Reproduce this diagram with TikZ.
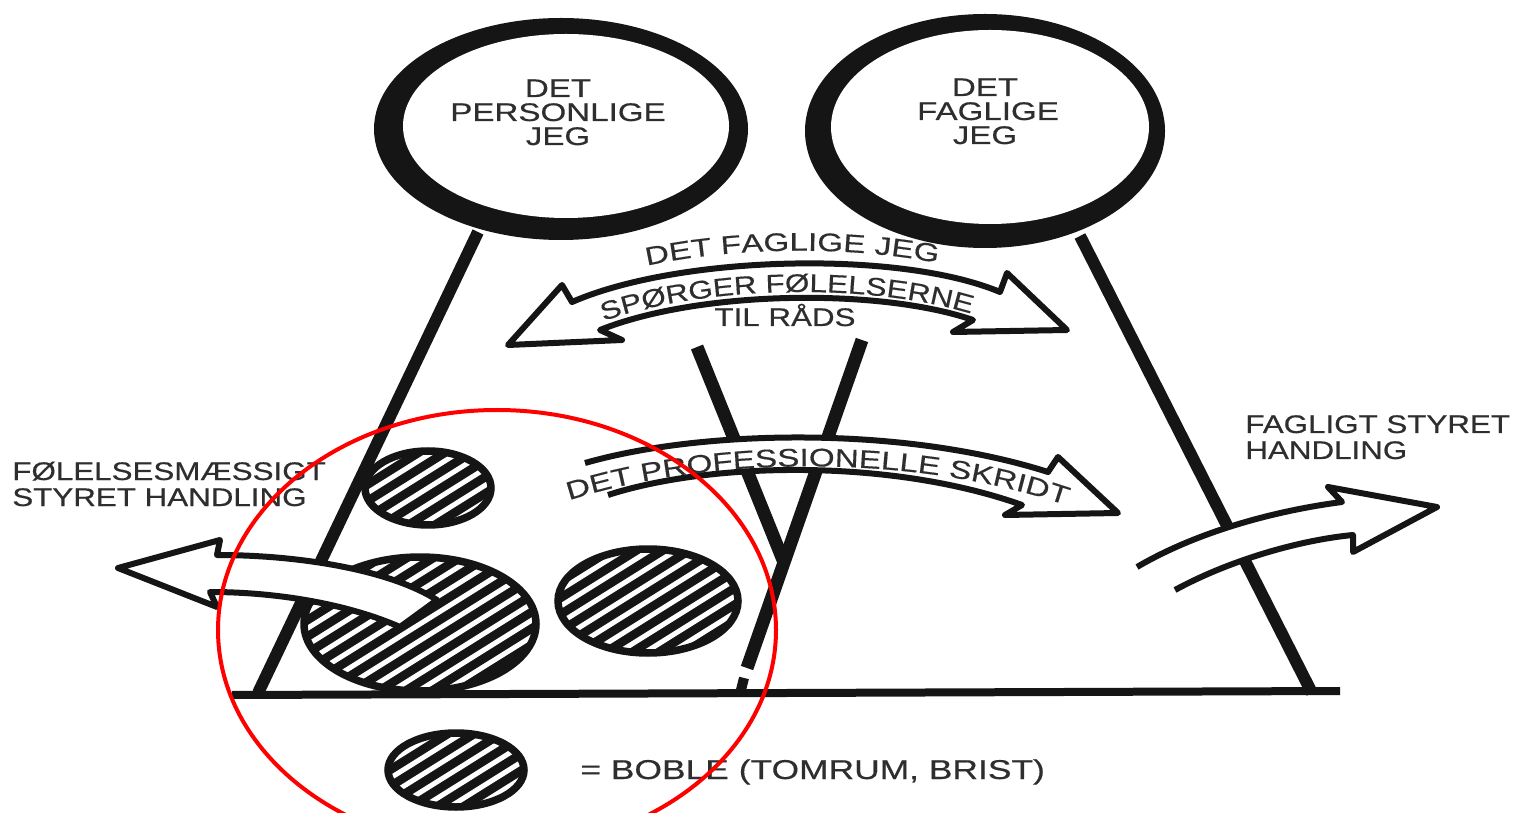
\documentclass[tikz,border=0pt]{standalone}
\usepackage{fontspec}
\setmainfont{Liberation Sans}
\newfontfamily\fa[FakeStretch=1.3,FakeBold=0.4]{Liberation Sans}
\newfontfamily\fb[FakeStretch=1.23,FakeBold=0.4]{Liberation Sans}
\usetikzlibrary{decorations.text}
\definecolor{ink}{HTML}{151515}
\definecolor{txt}{HTML}{2E2E2E}
\tikzset{
  stem/.style={ink, line width=0.24cm},
  arrowband/.style={ink, fill=white, line width=0.12cm, line join=round},
  ctext/.style={text=txt, font=\fa\fontsize{14.5}{16}\selectfont, inner sep=0pt, anchor=base},
  ltext/.style={text=txt, font=\fb\fontsize{14.5}{16}\selectfont, inner sep=0pt, anchor=base west},
}
\newcommand\hatchbubble[5]{%
  \coordinate (#1) at (#2,#3);
  \begin{scope}
    \clip (#2,#3) ellipse [x radius=#4, y radius=#5];
    \fill[ink] (#2,#3) ellipse [x radius=#4, y radius=#5];
    \foreach \k in {-8,...,8}{
      \pgfmathsetmacro\xa{#2+\k*7.42-144}
      \pgfmathsetmacro\ya{#3+\k*11.87+90}
      \pgfmathsetmacro\xb{#2+\k*7.42+144}
      \pgfmathsetmacro\yb{#3+\k*11.87-90}
      \draw[white, line width=0.1cm] (\xa,\ya) -- (\xb,\yb);
    }
  \end{scope}
  \draw[ink, line width=0.15cm] (#2,#3) ellipse [x radius=#4, y radius=#5];
}
\begin{document}
\begin{tikzpicture}[x=0.02cm, y=-0.02cm]
\useasboundingbox (0,0) rectangle (1520,813);
\fill[white] (0,0) rectangle (1520,813);

% the two "jeg" circles
\fill[ink] (561,129) ellipse [x radius=187, y radius=111];
\fill[white] (566,126) ellipse [x radius=163, y radius=92];
\fill[ink] (985,131) ellipse [x radius=180, y radius=117];
\fill[white] (990,127) ellipse [x radius=159, y radius=97];

\node[ctext] (p1) at (558,97) {DET};
\node[ctext] (p2) at (558,121) {PERSONLIGE};
\node[ctext] (p3) at (558,145) {JEG};
\node[ctext] (f1) at (985,96) {DET};
\node[ctext] (f2) at (988,120) {FAGLIGE};
\node[ctext] (f3) at (985,144) {JEG};

% stems and base
\coordinate (ls) at (478,232);
\coordinate (lb) at (258,693);
\coordinate (rs) at (1080,236);
\coordinate (rb) at (1312,693);
\draw[stem] (ls) -- (lb);
\draw[stem] (rs) -- (rb);
\coordinate (b1) at (232,695);
\coordinate (b2) at (1340,691);
\draw[ink, line width=0.16cm] (b1) -- (b2);

% V
\coordinate (v1) at (697,347);
\coordinate (v0) at (783,560);
\coordinate (v2) at (862,340);
\coordinate (v3) at (747,668);
\draw[stem, line width=0.26cm] (v1) -- (v0);
\draw[stem, line width=0.26cm] (v2) -- (v3);
\draw[stem, line width=0.2cm] (744,678) -- (741,690);

% bubbles
\hatchbubble{bA}{428}{488}{63}{37}
\hatchbubble{bB}{420}{624}{116}{67}
\hatchbubble{bC}{648}{601}{90}{52}
\hatchbubble{bD}{456}{770}{68}{37}

% double arrow
\draw[arrowband] (572,302) .. controls (680,255) and (900,250) .. (1000,292) -- (1007,273) -- (1067,330) -- (953,332) -- (973,320) .. controls (880,288) and (700,290) .. (600,330) -- (622,340) -- (508,345) -- (562,285) -- cycle;
\path[decorate, decoration={text along path, text align=center, text color=txt,
  text={|\fa\fontsize{14.5}{16}\selectfont|DET FAGLIGE JEG}}]
  (600,279) .. controls (700,243) and (880,241) .. (985,275);
\path[decorate, decoration={text along path, text align=center, text color=txt,
  text={|\fb\fontsize{14.5}{16}\selectfont|SPØRGER FØLELSERNE}}]
  (575,333) .. controls (680,282) and (890,278) .. (1000,324);
\node[ctext, font=\fb\fontsize{14.5}{16}\selectfont] (raad) at (785,326) {TIL RÅDS};

% professional step arrow
\draw[arrowband] (585,463) .. controls (700,430) and (900,425) .. (1048,472) -- (1058,457) -- (1118,513) -- (1005,515) -- (1022,505) .. controls (890,458) and (710,462) .. (608,495);
\path[decorate, decoration={text along path, text align=center, text color=txt,
  text={|\fa\fontsize{14.5}{16}\selectfont|DET  PROFESSIONELLE SKRIDT}}]
  (550,507) .. controls (690,455) and (920,449) .. (1085,512);

% right arrow
\draw[arrowband] (1137,567) .. controls (1200,530) and (1280,510) .. (1342,502) -- (1328,487) -- (1437,507) -- (1353,552) -- (1353,535) .. controls (1300,540) and (1230,560) .. (1175,590);
\node[ltext] (fs1) at (1245,433) {FAGLIGT STYRET};
\node[ltext] (fs2) at (1245,459) {HANDLING};

% left arrow
\draw[arrowband] (437,600) .. controls (390,570) and (300,555) .. (217,555) -- (220,540) -- (118,568) -- (217,607) -- (210,592) .. controls (280,592) and (350,605) .. (400,627) -- cycle;
\node[ltext] (fe1) at (12,480) {FØLELSESMÆSSIGT};
\node[ltext] (fe2) at (12,506) {STYRET HANDLING};

% legend
\node[ltext, font=\fa\fontsize{15.5}{17}\selectfont] (leg) at (580,779) {= BOBLE (TOMRUM, BRIST)};

% red ellipse
\draw[red, line width=0.08cm] (497,630) ellipse [x radius=279, y radius=220];
\end{tikzpicture}
\end{document}
